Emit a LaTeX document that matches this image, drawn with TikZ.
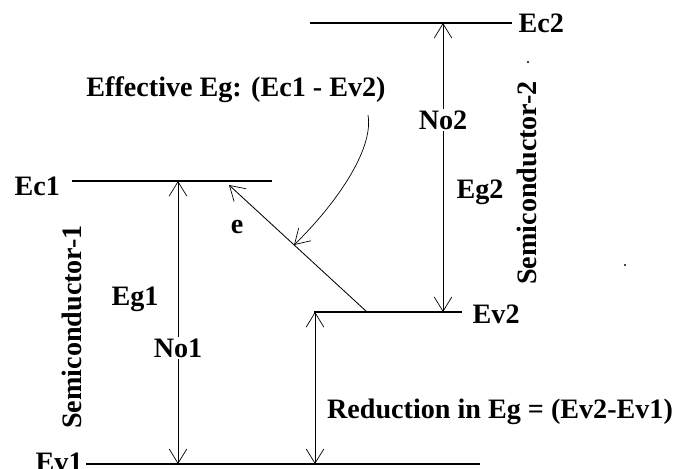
\documentclass[tikz,border=0pt]{standalone}
\usepackage{fontspec}
\setmainfont{Liberation Serif}
\usetikzlibrary{arrows.meta}

\begin{document}
\begin{tikzpicture}[x=0.025cm,y=-0.025cm,
  lbl/.style={font=\fontsize{20}{22}\selectfont\bfseries,inner sep=1pt},
  level/.style={draw=black,line width=0.9pt},
  barb/.style={draw=black,line width=0.6pt,-{Straight Barb[length=3.6mm,width=4.4mm,line width=0.5pt]}}]
\useasboundingbox (0,0) rectangle (675,468);

% levels
\node[lbl,anchor=base west] (ec2) at (517,32) {Ec2};
\node[lbl,anchor=base west] (ec1) at (13,195) {Ec1};
\node[lbl,anchor=base west] (ev2) at (471,323) {Ev2};
\node[lbl,anchor=base west] (ev1) at (34,471) {Ev1};
\coordinate (ec2L) at (310,23);
\coordinate (ec2R) at (512,23);
\coordinate (ec1L) at (72,181);
\coordinate (ec1R) at (272,181);
\coordinate (ev2L) at (314,312);
\coordinate (ev2R) at (462,312);
\coordinate (ev1L) at (86,464);
\coordinate (ev1R) at (480,464);
\draw[level] (ec2L) -- (ec2R);
\draw[level] (ec1L) -- (ec1R);
\draw[level] (ev2L) -- (ev2R);
\draw[level] (ev1L) -- (ev1R);

% gap arrows
\node[lbl] (no1) at (178,348) {No1};
\node[lbl] (no2) at (443,120) {No2};
\coordinate (a1t) at (178,181);
\coordinate (a1b) at (178,464);
\coordinate (a2t) at (443,23);
\coordinate (a2b) at (443,312);
\draw[barb] (no1) -- (a1t);
\draw[barb] (no1) -- (a1b);
\draw[barb] (no2) -- (a2t);
\draw[barb] (no2) -- (a2b);
\coordinate (rt) at (315,312);
\coordinate (rb) at (315,464);
\draw[barb,{Straight Barb[length=3.6mm,width=4.4mm,line width=0.5pt]}-{Straight Barb[length=3.6mm,width=4.4mm,line width=0.5pt]}] (rt) -- (rb);

% electron path
\coordinate (es) at (367,312);
\coordinate (ee) at (229,185);
\draw[barb] (es) -- (ee);
\node[lbl] (e) at (237,227) {e};

% labels
\node[lbl] (eg1) at (135,299) {Eg1};
\node[lbl] (eg2) at (480,192) {Eg2};
\node[lbl] (eff) at (236,90) {Effective Eg: (Ec1 - Ev2)};
\node[lbl] (red) at (500,412) {Reduction in Eg = (Ev2-Ev1)};
\node[lbl,rotate=90] (sc1) at (72,327) {Semiconductor-1};
\node[lbl,rotate=90] (sc2) at (527,183) {Semiconductor-2};
\coordinate (cs) at (368,115);
\coordinate (ce) at (294,245);
\draw[barb,line width=0.5pt] (cs) .. controls (374,150) and (335,205) .. (ce);

% stray dots
\fill (528,62) circle (1.2);
\fill (625,265) circle (1.2);
\end{tikzpicture}
\end{document}
